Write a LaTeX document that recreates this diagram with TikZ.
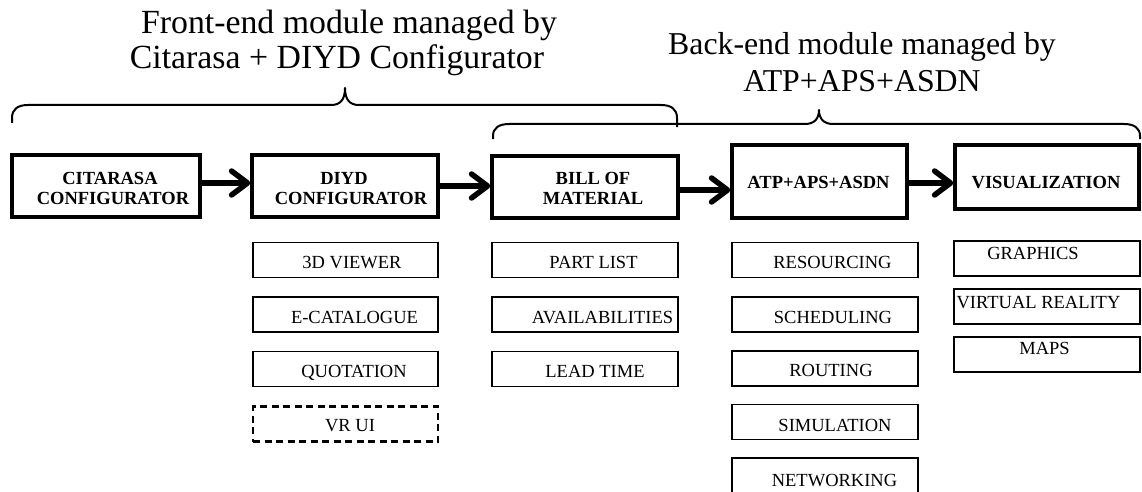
\documentclass[tikz,border=0pt]{standalone}
\usepackage{fontspec}
\setmainfont{Liberation Serif}
\usetikzlibrary{arrows.meta}
\begin{document}
\begin{tikzpicture}[x=1pt,y=-1pt,
  mbox/.style={draw, line width=3.4pt, inner sep=0pt},
  sbox/.style={draw, line width=1.2pt, inner sep=0pt, minimum width=185pt, minimum height=35pt},
  dbox/.style={sbox, line width=2.4pt, dash pattern=on 7pt off 4.5pt},
  mtext/.style={anchor=base, inner sep=0pt, font=\fontsize{18.5pt}{20pt}\selectfont\bfseries},
  stext/.style={anchor=base, inner sep=0pt, font=\fontsize{18.5pt}{20pt}\selectfont},
  ttexta/.style={anchor=base, inner sep=0pt, font=\fontsize{33.8pt}{36pt}\selectfont},
  ttextb/.style={anchor=base, inner sep=0pt, font=\fontsize{31.8pt}{36pt}\selectfont},
  brace/.style={draw, line width=2pt, line join=round},
  arr/.style={line width=5.5pt, -{Straight Barb[length=16pt, width=24pt, round]}}
]
\clip (0,0) rectangle (1142,492);
\fill[white] (0,0) rectangle (1142,492);

% titles
\node[ttexta] (t1a) at (349,34) {Front-end module managed by};
\node[ttexta] (t1b) at (337,69) {Citarasa + DIYD Configurator};
\node[ttextb] (t2a) at (862,55) {Back-end module managed by};
\node[ttextb] (t2b) at (862,92) {ATP+APS+ASDN};

% braces
\draw[brace] (12,123) -- (12,118) .. controls (12,109) and (18,105) .. (28,105) -- (331,105)
  .. controls (340,105) and (345,100) .. (345,88) .. controls (345,100) and (350,105) .. (359,105)
  -- (661,105) .. controls (671,105) and (677,109) .. (677,118) -- (677,127);
\draw[brace] (493,139) -- (493,136) .. controls (493,128) and (499,124) .. (509,124) -- (805,124)
  .. controls (814,124) and (819,119) .. (819,110) .. controls (819,119) and (824,124) .. (833,124)
  -- (1124,124) .. controls (1134,124) and (1140,128) .. (1140,136) -- (1140,139);

% main boxes
\node[mbox, minimum width=188pt, minimum height=62pt] (cit) at (106,186) {};
\node[mbox, minimum width=186pt, minimum height=62pt] (diyd) at (345,186) {};
\node[mbox, minimum width=186pt, minimum height=62pt] (bill) at (585,187) {};
\node[mbox, minimum width=175pt, minimum height=73pt] (atp) at (819.5,181.5) {};
\node[mbox, minimum width=184pt, minimum height=64pt] (vis) at (1047,177) {};

\node[mtext] (citA) at (110,184) {CITARASA};
\node[mtext] (citB) at (113,204) {CONFIGURATOR};
\node[mtext] (diyA) at (344,184) {DIYD};
\node[mtext] (diyB) at (351,204) {CONFIGURATOR};
\node[mtext] (bilA) at (593,184) {BILL OF};
\node[mtext] (bilB) at (593,204) {MATERIAL};
\node[mtext] (atpA) at (818.5,188) {ATP+APS+ASDN};
\node[mtext] (visA) at (1046,188) {VISUALIZATION};

% arrows
\coordinate (ya) at (0,183);
\coordinate (yb) at (0,186);
\coordinate (yc) at (0,190);
\coordinate (yd) at (0,183);
\draw[arr] (cit.east |- ya) -- (diyd.west |- ya);
\draw[arr] (diyd.east |- yb) -- (bill.west |- yb);
\draw[arr] (bill.east |- yc) -- (atp.west |- yc);
\draw[arr] (atp.east |- yd) -- (vis.west |- yd);

% column 1
\node[sbox] (v3d) at (345.5,260) {};
\node[sbox] (ecat) at (345.5,314.5) {};
\node[sbox] (quot) at (345.5,369) {};
\node[dbox] (vrui) at (345.5,424) {};
\node[stext] at (352,268) {3D VIEWER};
\node[stext] at (354.5,323) {E-CATALOGUE};
\node[stext] at (354,377) {QUOTATION};
\node[stext] at (350,431) {VR UI};

% column 2
\node[sbox, minimum width=186pt] (plist) at (585,260) {};
\node[sbox, minimum width=186pt] (avail) at (585,314.5) {};
\node[sbox, minimum width=186pt] (lead) at (585,369) {};
\node[stext] at (593.5,268) {PART LIST};
\node[stext] at (602.5,323) {AVAILABILITIES};
\node[stext] at (595,377) {LEAD TIME};

% column 3
\node[sbox, minimum width=186pt] (res) at (825,260) {};
\node[sbox, minimum width=186pt] (sched) at (825,314.5) {};
\node[sbox, minimum width=186pt] (rout) at (825,368.5) {};
\node[sbox, minimum width=186pt] (sim) at (825,422) {};
\node[sbox, minimum width=186pt, minimum height=40pt] (net) at (825,478) {};
\node[stext] at (832.5,268) {RESOURCING};
\node[stext] at (833,323) {SCHEDULING};
\node[stext] at (831,376) {ROUTING};
\node[stext] at (835,431) {SIMULATION};
\node[stext] at (834.5,486) {NETWORKING};

% column 4
\node[sbox, minimum width=186pt] (gra) at (1047,258.5) {};
\node[sbox, minimum width=186pt] (virt) at (1047,306.5) {};
\node[sbox, minimum width=186pt] (maps) at (1047,354.5) {};
\node[stext] at (1033,259) {GRAPHICS};
\node[stext] at (1038.5,308) {VIRTUAL REALITY};
\node[stext] at (1044.5,354) {MAPS};
\end{tikzpicture}
\end{document}
